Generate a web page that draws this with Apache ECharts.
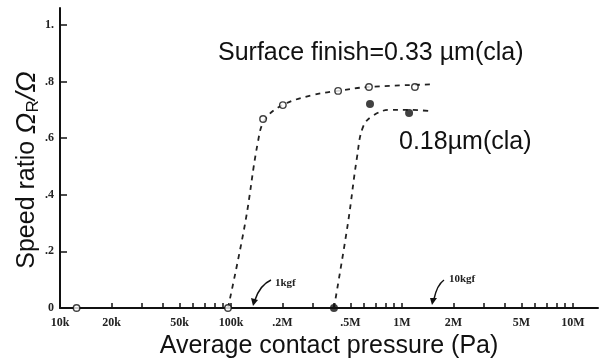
<!DOCTYPE html>
<html>
<head>
<meta charset="utf-8">
<script src="https://cdn.jsdelivr.net/npm/echarts@6/dist/echarts.min.js"></script>
<style>
html,body{margin:0;padding:0;background:#fff;}
#chart{width:616px;height:358px;}
</style>
</head>
<body>
<div id="chart"></div>
<script>
// Tick labels (x: pressure in Pa, log scale)
const xTickValues = [1e4, 2e4, 5e4, 1e5, 2e5, 5e5, 1e6, 2e6, 5e6, 1e7];
const xTickLabels = ['10k', '20k', '50k', '100k', '.2M', '.5M', '1M', '2M', '5M', '10M'];
const yTickValues = [0, 0.2, 0.4, 0.6, 0.8, 1.0];
const yTickLabels = ['0', '.2', '.4', '.6', '.8', '1.'];

// Measured points, surface finish 0.33 um (open circles)
const p033 = [12500, 96000, 154000, 201000, 423000, 641000, 1190000];
const r033 = [0, 0, 0.668, 0.717, 0.767, 0.781, 0.781];
// Fitted dashed curve, 0.33 um
const curveP033 = [96000, 121000, 144000, 158000, 200000, 300000, 420000, 640000, 1500000];
const curveR033 = [0, 0.30, 0.59, 0.665, 0.717, 0.752, 0.767, 0.781, 0.79];

// Measured points, surface finish 0.18 um (filled circles)
const p018 = [400000, 650000, 1100000];
const r018 = [0, 0.721, 0.689];
// Fitted dashed curve, 0.18 um
const curveP018 = [400000, 483000, 546000, 592000, 677000, 851000, 1100000, 1500000];
const curveR018 = [0, 0.30, 0.534, 0.64, 0.68, 0.70, 0.70, 0.695];

// minor tick positions (1..9 per decade)
const minorTicks = [];
[1e4, 1e5, 1e6].forEach(d => { for (let k = 1; k <= 9; k++) minorTicks.push(d * k); });
minorTicks.push(1e7);

const zip = (a, b) => a.map((v, i) => [v, b[i]]);
const ink = '#111';
const serif = '"Liberation Serif", "DejaVu Serif", serif';
const sans = '"Liberation Sans", Arial, sans-serif';

const chart = echarts.init(document.getElementById('chart'), null, {renderer: 'canvas'});
chart.setOption({
  animation: false,
  backgroundColor: '#fff',
  grid: {left: 60, right: 18, top: 8, bottom: 50, containLabel: false, outerBoundsMode: 'none'},
  xAxis: {
    type: 'log', logBase: 10, min: 1e4, max: 1.4e7,
    name: 'Average contact pressure (Pa)',
    nameLocation: 'middle', nameGap: 23,
    nameTextStyle: {fontFamily: sans, fontSize: 25, color: ink},
    axisLine: {lineStyle: {color: ink, width: 2}},
    axisTick: {inside: true, length: 5, customValues: minorTicks, lineStyle: {color: ink, width: 1.5}},
    minorTick: {show: false},
    splitLine: {show: false},
    axisLabel: {
      customValues: xTickValues,
      margin: 9,
      fontFamily: serif, fontWeight: 'bold', fontSize: 12, color: '#222',
      formatter: v => { const i = xTickValues.findIndex(t => Math.abs(t - v) / t < 1e-6); return i >= 0 ? xTickLabels[i] : ''; }
    }
  },
  yAxis: {
    type: 'value', min: 0, max: 1.06,
    axisLine: {show: true, lineStyle: {color: ink, width: 2}},
    axisTick: {show: true, inside: true, length: 7, customValues: yTickValues, lineStyle: {color: ink, width: 1.5}},
    splitLine: {show: false},
    axisLabel: {
      customValues: yTickValues,
      margin: 6,
      fontFamily: serif, fontWeight: 'bold', fontSize: 12, color: '#222',
      formatter: v => { const i = yTickValues.findIndex(t => Math.abs(t - v) < 1e-6); return i >= 0 ? yTickLabels[i] : ''; }
    }
  },
  series: [
    {
      type: 'line', data: zip(curveP033, curveR033), smooth: 0.4, symbol: 'none',
      lineStyle: {color: '#222', width: 1.8, type: [5, 5]}, z: 2
    },
    {
      type: 'line', data: zip(curveP018, curveR018), smooth: 0.4, symbol: 'none',
      lineStyle: {color: '#222', width: 1.8, type: [5, 5]}, z: 2
    },
    {
      type: 'scatter', data: zip(p033, r033), symbol: 'circle', symbolSize: 6.5,
      itemStyle: {color: '#fff', borderColor: ink, borderWidth: 1.4}, z: 5
    },
    {
      type: 'scatter', data: zip(p018, r018), symbol: 'circle', symbolSize: 8,
      itemStyle: {color: ink}, z: 5
    }
  ],
  graphic: [
    {
      type: 'text', x: 27, y: 170, rotation: Math.PI / 2,
      style: {
        text: '{a|Speed ratio }{o|Ω}{s|R}{o|/Ω}',
        align: 'center', verticalAlign: 'middle',
        rich: {
          a: {fontFamily: sans, fontSize: 25, fill: ink, lineHeight: 30},
          o: {fontFamily: sans, fontStyle: 'italic', fontSize: 28, fill: ink, lineHeight: 30},
          s: {fontFamily: sans, fontSize: 17, fill: ink, lineHeight: 30, verticalAlign: 'bottom', padding: [10, 0, 0, 0]}
        }
      }
    },
    {
      type: 'text', x: 218, y: 53,
      style: {text: 'Surface finish=0.33 µm(cla)', fontFamily: sans, fontSize: 25, fill: ink, verticalAlign: 'middle'}
    },
    {
      type: 'text', x: 399, y: 142,
      style: {text: '0.18µm(cla)', fontFamily: sans, fontSize: 25, fill: ink, verticalAlign: 'middle'}
    },
    {
      type: 'text', x: 275, y: 283,
      style: {text: '1kgf', fontFamily: serif, fontWeight: 'bold', fontSize: 11, fill: '#222', verticalAlign: 'middle'}
    },
    {
      type: 'text', x: 449, y: 279,
      style: {text: '10kgf', fontFamily: serif, fontWeight: 'bold', fontSize: 11, fill: '#222', verticalAlign: 'middle'}
    },
    {
      type: 'bezierCurve',
      shape: {x1: 271, y1: 280, cpx1: 260, cpy1: 285, x2: 255, y2: 300},
      style: {stroke: ink, lineWidth: 1.5, fill: null}
    },
    {
      type: 'polygon', shape: {points: [[251, 298], [258, 300], [253, 306]]},
      style: {fill: ink}
    },
    {
      type: 'bezierCurve',
      shape: {x1: 444, y1: 280, cpx1: 437, cpy1: 285, x2: 434, y2: 299},
      style: {stroke: ink, lineWidth: 1.5, fill: null}
    },
    {
      type: 'polygon', shape: {points: [[430, 298], [437, 298], [432, 305]]},
      style: {fill: ink}
    }
  ]
});
</script>
</body>
</html>
